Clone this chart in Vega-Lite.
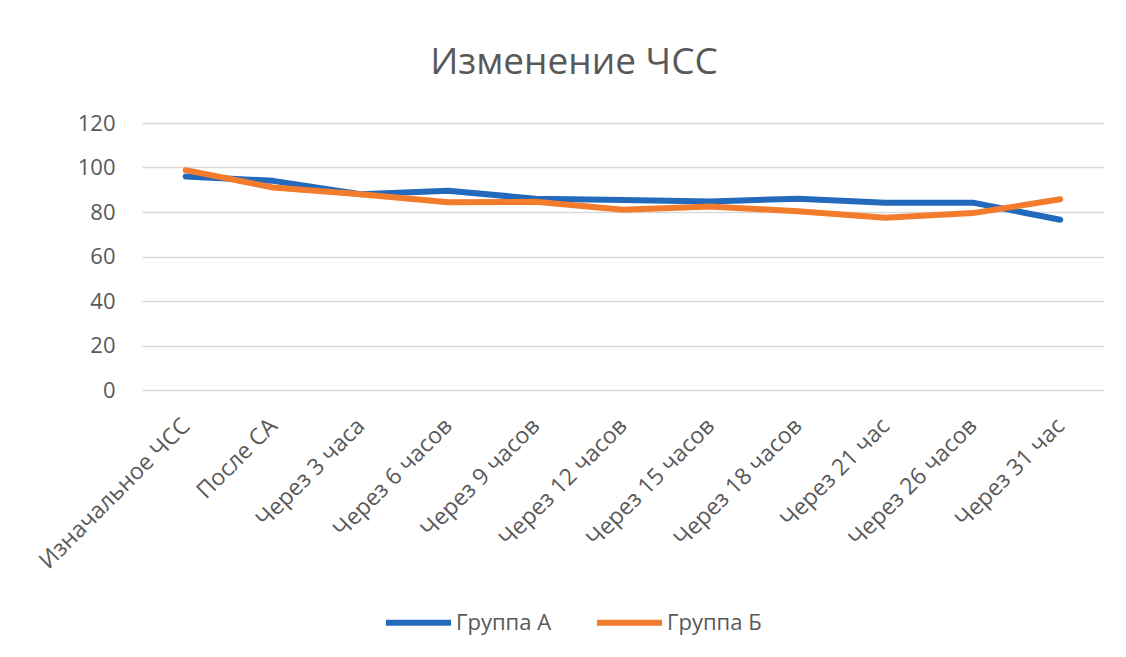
{
  "$schema": "https://vega.github.io/schema/vega-lite/v6.json",
  "width": 962,
  "height": 267,
  "autosize": {"type": "none"},
  "padding": {"left": 142, "top": 123, "right": 22, "bottom": 267},
  "background": "white",
  "title": {
    "text": "Изменение ЧСС",
    "fontSize": 37,
    "font": "Open Sans",
    "fontWeight": "normal",
    "color": "#595959",
    "anchor": "middle",
    "dx": -49,
    "offset": 30
  },
  "data": {
    "values": [
      {"t": "Изначальное ЧСС", "g": "Группа А", "v": 96},
      {"t": "После СА", "g": "Группа А", "v": 94},
      {"t": "Через 3 часа", "g": "Группа А", "v": 88},
      {"t": "Через 6 часов", "g": "Группа А", "v": 89.5},
      {"t": "Через 9 часов", "g": "Группа А", "v": 86},
      {"t": "Через 12 часов", "g": "Группа А", "v": 85.4},
      {"t": "Через 15 часов", "g": "Группа А", "v": 84.7},
      {"t": "Через 18 часов", "g": "Группа А", "v": 86},
      {"t": "Через 21 час", "g": "Группа А", "v": 84.2},
      {"t": "Через 26 часов", "g": "Группа А", "v": 84.2},
      {"t": "Через 31 час", "g": "Группа А", "v": 76.5},
      {"t": "Изначальное ЧСС", "g": "Группа Б", "v": 98.8},
      {"t": "После СА", "g": "Группа Б", "v": 91},
      {"t": "Через 3 часа", "g": "Группа Б", "v": 88},
      {"t": "Через 6 часов", "g": "Группа Б", "v": 84.4},
      {"t": "Через 9 часов", "g": "Группа Б", "v": 84.6},
      {"t": "Через 12 часов", "g": "Группа Б", "v": 81},
      {"t": "Через 15 часов", "g": "Группа Б", "v": 82.5},
      {"t": "Через 18 часов", "g": "Группа Б", "v": 80.3},
      {"t": "Через 21 час", "g": "Группа Б", "v": 77.4},
      {"t": "Через 26 часов", "g": "Группа Б", "v": 79.5},
      {"t": "Через 31 час", "g": "Группа Б", "v": 85.7}
    ]
  },
  "mark": {"type": "line", "strokeWidth": 6, "strokeCap": "round", "strokeJoin": "round"},
  "encoding": {
    "x": {
      "field": "t",
      "type": "nominal",
      "sort": null,
      "scale": {"type": "point", "padding": 0.5},
      "axis": {
        "title": null,
        "labelAngle": -45,
        "labelAlign": "right",
        "labelBaseline": "middle",
        "labelFontSize": 23,
        "labelFont": "Open Sans",
        "labelColor": "#595959",
        "labelPadding": 32,
        "labelLimit": 0,
        "ticks": false,
        "domain": false,
        "grid": false
      }
    },
    "y": {
      "field": "v",
      "type": "quantitative",
      "scale": {"domain": [0, 120], "nice": false},
      "axis": {
        "title": null,
        "values": [0, 20, 40, 60, 80, 100, 120],
        "labelFontSize": 22,
        "labelFont": "Open Sans",
        "labelColor": "#595959",
        "labelPadding": 27,
        "ticks": false,
        "domain": false,
        "gridColor": "#d9d9d9",
        "gridWidth": 1.5
      }
    },
    "color": {
      "field": "g",
      "type": "nominal",
      "scale": {"domain": ["Группа А", "Группа Б"], "range": ["#2369BC", "#F37B2C"]},
      "legend": {
        "title": null,
        "orient": "none",
        "direction": "horizontal",
        "legendX": 241,
        "legendY": 464,
        "symbolType": "stroke",
        "symbolSize": 4225,
        "symbolStrokeWidth": 6,
        "labelFontSize": 22,
        "labelFont": "Open Sans",
        "labelColor": "#595959",
        "labelOffset": 2,
        "columnPadding": 33
      }
    }
  },
  "config": {"view": {"stroke": null}}
}
